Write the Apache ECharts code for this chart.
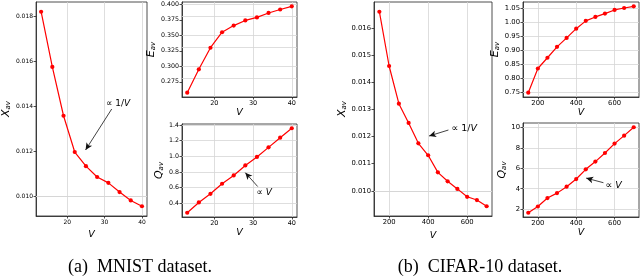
<!DOCTYPE html>
<html><head><meta charset="utf-8">
<script src="https://cdn.jsdelivr.net/npm/echarts@6/dist/echarts.min.js"></script>
<style>html,body{margin:0;padding:0;background:#fff}#c{width:640px;height:277px}</style>
</head><body><div id="c"></div>
<script>
// ---- data ----
const mnistV = [13,16,19,22,25,28,31,34,37,40];
const mnistX = [0.01820,0.01575,0.01358,0.01197,0.01134,0.01086,0.01060,0.01019,0.00982,0.00956];
const mnistE = [0.2574,0.2951,0.3299,0.3549,0.3656,0.3739,0.3788,0.3860,0.3916,0.3967];
const mnistQ = [0.277,0.409,0.520,0.649,0.755,0.883,0.992,1.115,1.239,1.360];
const cifarV = [150,200,250,300,350,400,450,500,550,600,650,700];
const cifarX = [0.01660,0.01460,0.01321,0.01250,0.01175,0.01131,0.01068,0.01035,0.01007,0.00978,0.00966,0.00943];
const cifarE = [0.749,0.8355,0.874,0.913,0.945,0.978,1.006,1.020,1.032,1.045,1.052,1.058];
const cifarQ = [1.65,2.26,3.09,3.57,4.20,4.95,5.90,6.66,7.50,8.42,9.20,10.02];
// ---- tick labels ----
const mnistVTicks = [20,30,40];
const cifarVTicks = [200,400,600];
const mnistXTicks = [0.010,0.012,0.014,0.016,0.018];
const mnistETicks = [0.275,0.300,0.325,0.350,0.375,0.400];
const mnistQTicks = [0.4,0.6,0.8,1.0,1.2,1.4];
const cifarXTicks = [0.010,0.011,0.012,0.013,0.014,0.015,0.016];
const cifarETicks = [0.75,0.80,0.85,0.90,0.95,1.00,1.05];
const cifarQTicks = [2,4,6,8,10];
// ---- annotations (data coordinates) ----
const mnistXNote = {text:[33.6,0.01412], tail:[31.9,0.01388], head:[24.9,0.01206], label:'inv'};
const mnistQNote = {text:[32.9,0.541], tail:[31.2,0.613], head:[28.0,0.791], label:'lin'};
const cifarXNote = {text:[585,0.01228], tail:[504,0.01224], head:[405,0.01202], label:'inv'};
const cifarQNote = {text:[595,4.32], tail:[542,4.59], head:[452,5.04], label:'lin'};
const captions = ['(a)\u2002MNIST dataset.', '(b)\u2002CIFAR-10 dataset.'];

function pad(a){const mn=Math.min(...a), mx=Math.max(...a), r=mx-mn; return [mn-0.05*r, mx+0.05*r];}
const axisCol = '#222';
const gridCol = '#d6d6d6';
function xAx(g, ticks, data, fs, gap){
  const r = pad(data);
  return {type:'value', gridIndex:g, min:r[0], max:r[1], name:'V', nameLocation:'middle', nameGap:gap,
    nameTextStyle:{fontFamily:'DejaVu Sans', fontStyle:'italic', fontSize:9.5, color:'#000'},
    axisLine:{show:true, onZero:false, lineStyle:{color:axisCol, width:0.8}},
    axisTick:{show:true, customValues:ticks, length:2.5, lineStyle:{color:axisCol, width:0.8}},
    axisLabel:{customValues:ticks, fontSize:fs, color:'#000', fontFamily:'DejaVu Sans', margin:3, formatter:v=>String(Math.round(v))},
    splitLine:{show:false}};
}
function yAx(g, ticks, data, fs, gap, nm, dec){
  const r = pad(data);
  return {type:'value', gridIndex:g, min:r[0], max:r[1], name:'{i|'+nm+'}{s|av}', nameLocation:'middle', nameGap:gap, nameRotate:90,
    nameTextStyle:{color:'#000', rich:{i:{fontFamily:'DejaVu Sans', fontStyle:'italic', fontSize:11, color:'#000', lineHeight:13, verticalAlign:'bottom'},
                                      s:{fontFamily:'DejaVu Sans', fontStyle:'italic', fontSize:7, color:'#000', verticalAlign:'bottom', lineHeight:10}}},
    axisLine:{show:true, onZero:false, lineStyle:{color:axisCol, width:0.8}},
    axisTick:{show:true, customValues:ticks, length:2.5, lineStyle:{color:axisCol, width:0.8}},
    axisLabel:{customValues:ticks, fontSize:fs, color:'#000', fontFamily:'DejaVu Sans', margin:3, formatter:v=>v.toFixed(dec)},
    splitLine:{show:false}};
}
function zip(a,b){return a.map((v,i)=>[v,b[i]]);}
function noteMarks(n, fs){
  if(!n) return {};
  const txt = n.label==='inv' ? '{n|\u221D 1/}{i|V}' : '{n|\u221D }{i|V}';
  return {
    markLine:{silent:true, animation:false, z:6,
      lineStyle:{color:'#111', width:0.8, type:'solid'}, itemStyle:{color:'#111'}, label:{show:false}, emphasis:{disabled:true},
      data:[[{coord:n.tail, symbol:'none', symbolSize:1}, {coord:n.head, symbol:'arrow', symbolSize:[5,7], itemStyle:{color:'#111'}}]]},
    markPoint:{silent:true, animation:false, symbol:'circle', symbolSize:0.01,
      label:{show:true, position:'inside', formatter:txt, rich:{n:{fontFamily:'DejaVu Sans', fontSize:fs, color:'#000'}, i:{fontFamily:'DejaVu Sans', fontStyle:'italic', fontSize:fs, color:'#000'}}},
      data:[{coord:n.text}]}
  };
}
function ser(xi, xs, ys, note, fs){
  return Object.assign({type:'line', z:3, xAxisIndex:xi, yAxisIndex:xi, data:zip(xs,ys), symbol:'circle', symbolSize:4.2,
    lineStyle:{color:'#ff0000', width:1.2}, itemStyle:{color:'#ff0000'}, animation:false, silent:true}, noteMarks(note, fs));
}
function gridSer(xi, xs, ys, xt, yt){
  return {type:'line', z:1, xAxisIndex:xi, yAxisIndex:xi, data:zip(xs,ys), showSymbol:false, symbol:'none',
    lineStyle:{opacity:0, width:0}, animation:false, silent:true,
    markLine:{silent:true, animation:false, z:1, symbol:['none','none'], label:{show:false}, emphasis:{disabled:true},
      lineStyle:{color:gridCol, width:0.8, type:'solid'},
      data: xt.map(v=>({xAxis:v})).concat(yt.map(v=>({yAxis:v})))}};
}
const gridBase = {show:true, borderColor:axisCol, borderWidth:0.8, containLabel:false};
const option = {
  animation:false,
  grid:[
    Object.assign({left:32, top:2, width:115, height:214}, gridBase),
    Object.assign({left:182, top:2, width:115, height:95}, gridBase),
    Object.assign({left:182, top:124, width:115, height:93}, gridBase),
    Object.assign({left:374, top:2, width:118, height:214}, gridBase),
    Object.assign({left:523, top:2, width:116, height:95}, gridBase),
    Object.assign({left:523, top:123, width:116, height:94}, gridBase)
  ],
  xAxis:[
    xAx(0, mnistVTicks, mnistV, 6, 10),
    xAx(1, mnistVTicks, mnistV, 6.5, 6),
    xAx(2, mnistVTicks, mnistV, 6.5, 8),
    xAx(3, cifarVTicks, cifarV, 6.8, 10),
    xAx(4, cifarVTicks, cifarV, 6.8, 6),
    xAx(5, cifarVTicks, cifarV, 6.8, 8)
  ],
  yAxis:[
    yAx(0, mnistXTicks, mnistX, 6, 22, 'X', 3),
    yAx(1, mnistETicks, mnistE, 6.3, 19, 'E', 3),
    yAx(2, mnistQTicks, mnistQ, 6.3, 17, 'Q', 1),
    yAx(3, cifarXTicks, cifarX, 6.8, 21, 'X', 3),
    yAx(4, cifarETicks, cifarE, 6.8, 14, 'E', 2),
    yAx(5, cifarQTicks, cifarQ, 6.8, 12, 'Q', 0)
  ],
  series:[
    gridSer(0, mnistV, mnistX, mnistVTicks, mnistXTicks),
    gridSer(1, mnistV, mnistE, mnistVTicks, mnistETicks),
    gridSer(2, mnistV, mnistQ, mnistVTicks, mnistQTicks),
    gridSer(3, cifarV, cifarX, cifarVTicks, cifarXTicks),
    gridSer(4, cifarV, cifarE, cifarVTicks, cifarETicks),
    gridSer(5, cifarV, cifarQ, cifarVTicks, cifarQTicks),
    ser(0, mnistV, mnistX, mnistXNote, 9),
    ser(1, mnistV, mnistE, null),
    ser(2, mnistV, mnistQ, mnistQNote, 9),
    ser(3, cifarV, cifarX, cifarXNote, 9.5),
    ser(4, cifarV, cifarE, null),
    ser(5, cifarV, cifarQ, cifarQNote, 9.5)
  ],
  graphic:[
    {type:'text', x:140, y:267, silent:true, style:{text:captions[0], fontSize:18, fontFamily:'Liberation Serif', fill:'#000', align:'center', verticalAlign:'middle'}},
    {type:'text', x:480, y:267, silent:true, style:{text:captions[1], fontSize:18, fontFamily:'Liberation Serif', fill:'#000', align:'center', verticalAlign:'middle'}}
  ]
};
const chart = echarts.init(document.getElementById('c'), null, {renderer:'canvas'});
chart.setOption(option);
</script></body></html>
